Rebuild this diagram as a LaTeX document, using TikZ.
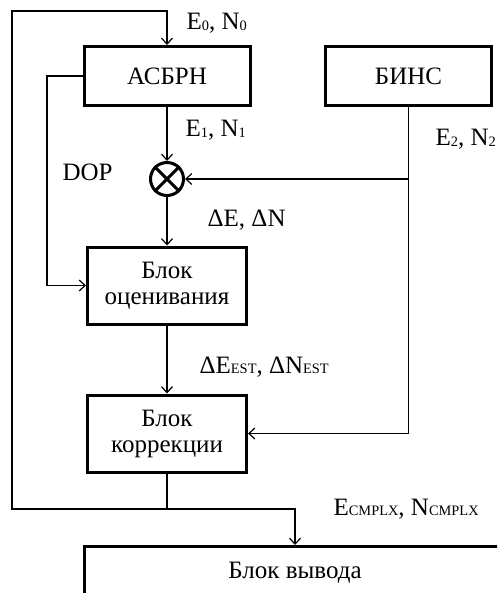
\documentclass[tikz,border=0pt]{standalone}
\usepackage{fontspec}
\setmainfont{Liberation Serif}
\usetikzlibrary{arrows.meta,positioning}
\newcommand{\idx}[1]{{\fontsize{7.2}{8}\selectfont\raisebox{-0.4pt}{#1}}}

\begin{document}
\begin{tikzpicture}[x=0.5pt,y=-0.5pt,
	font=\fontsize{12.5}{13}\selectfont,
	blok/.style={draw,line width=1.5pt,align=center,inner sep=0pt},
	lbl/.style={anchor=base west,inner sep=0pt},
	arr/.style={-{Straight Barb[length=3pt,width=5.5pt]}},
	line width=0.6pt]
		\useasboundingbox (0,0) rectangle (497,593);
		\clip (0,0) rectangle (497,593);
		% bloki
		\node[blok,minimum width=83pt,minimum height=29.5pt] (asbrn) at (167,76) {АСБРН};
		\node[blok,minimum width=83pt,minimum height=29.5pt] (bins) at (408.5,76) {БИНС};
		\node[draw,circle,line width=1.5pt,minimum size=16.5pt,inner sep=0pt] (sum) at (167,179) {};
		\draw[line width=1.5pt] (sum.north west) -- (sum.south east) (sum.north east) -- (sum.south west);
		\node[blok,minimum width=79.5pt,minimum height=38.5pt] (ocen) at (167,285.5) {Блок\\оценивания};
		\node[blok,minimum width=79.5pt,minimum height=38.5pt] (korr) at (167,433.5) {Блок\\коррекции};
		\node[blok,minimum width=210.5pt,minimum height=26pt] (vyvod) at (295,572.5) {Блок вывода};
		% tochki
		\coordinate (split) at (167,509);
		\coordinate (loopbot) at (12,509);
		\coordinate (looptop) at (12,11);
		\coordinate (dopline) at (47,0);
		% svyazi
		\draw (korr.south) -- (split);
		\draw[arr] (split) -- (loopbot) -- (looptop) -| (asbrn.north);
		\draw[arr] (split) -| (vyvod.north);
		\draw[arr] (asbrn.west) -- (asbrn.west -| dopline) |- (ocen.west);
		\draw[arr] (asbrn.south) -- (sum.north);
		\draw[arr] (sum.south) -- (ocen.north);
		\draw[arr] (ocen.south) -- (korr.north);
		\draw[arr] (bins.south) |- (korr.east);
		\draw[arr] (bins.south |- sum.east) -- (sum.east);
		% podpisi
		\node[lbl] (e0) at (186,30) {E\idx{0}, N\idx{0}};
		\node[lbl] (e1) at (185,137) {E\idx{1}, N\idx{1}};
		\node[lbl] (e2) at (435,146) {E\idx{2}, N\idx{2}};
		\node[lbl] (dop) at (62,181) {DOP};
		\node[lbl] (de) at (207,226) {ΔE, ΔN};
		\node[lbl] (dest) at (199,373) {ΔE\idx{EST}, ΔN\idx{EST}};
		\node[lbl] (ecmplx) at (333,515) {E\idx{CMPLX}, N\idx{CMPLX}};
	\end{tikzpicture}
\end{document}
